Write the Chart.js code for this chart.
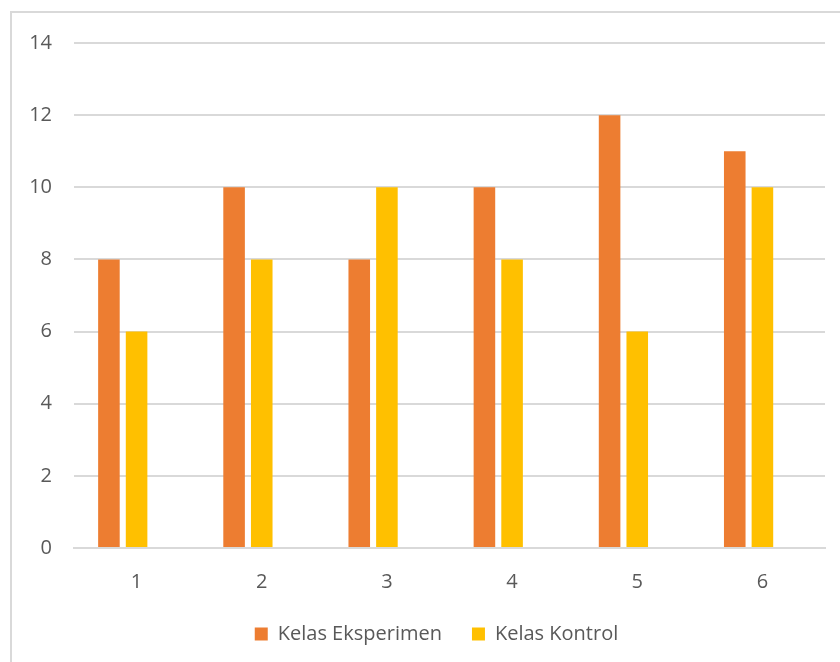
<!DOCTYPE html>
<html lang="id">
  <head>
    <meta charset="UTF-8" />
    <title>Kelas Eksperimen vs Kelas Kontrol</title>
    <script src="https://cdn.jsdelivr.net/npm/chart.js@4/dist/chart.umd.min.js"></script>
    <style>
      html, body { margin: 0; padding: 0; background: #fff; overflow: hidden; }
      #frame {
        position: absolute; left: 10px; top: 11px;
        width: 900px; height: 700px;
        border: 2px solid #d9d9d9; box-sizing: border-box;
      }
      #wrap { position: absolute; left: 0; top: 0; width: 840px; height: 662px; }
    </style>
  </head>
  <body>
    <div id="frame"></div>
    <div id="wrap"><canvas id="chart"></canvas></div>

    <script>
      const categories = ["1", "2", "3", "4", "5", "6"];
      const eksperimen = [8, 10, 8, 10, 12, 11];
      const kontrol = [6, 8, 10, 8, 6, 10];
      // third (empty) series in the original sheet, keeps the bars shifted left
      const kosong = [null, null, null, null, null, null];

      const textColor = "#595959";
      const gridColor = "#d9d9d9";
      const font = { family: "'Open Sans', sans-serif", size: 20 };

      const barOpts = { categoryPercentage: 0.663, barPercentage: 0.78 };

      // legend sits a bit right of centre in the original
      const legendShift = {
        id: "legendShift",
        afterLayout(chart) {
          chart.legend.left += 24;
          chart.legend.right += 24;
        },
      };

      new Chart(document.getElementById("chart"), {
        type: "bar",
        data: {
          labels: categories,
          datasets: [
            { label: "Kelas Eksperimen", data: eksperimen, backgroundColor: "#ed7d31", ...barOpts },
            { label: "Kelas Kontrol", data: kontrol, backgroundColor: "#ffc000", ...barOpts },
            { label: "", data: kosong, backgroundColor: "#a5a5a5", ...barOpts },
          ],
        },
        options: {
          responsive: true,
          maintainAspectRatio: false,
          animation: false,
          layout: { padding: { top: 43, right: 15, left: 0, bottom: 16 } },
          plugins: {
            tooltip: { enabled: false },
            legend: {
              position: "bottom",
              maxHeight: 52,
              labels: {
                color: textColor,
                font: font,
                boxWidth: 13,
                boxHeight: 13,
                padding: 30,
                filter: (item) => item.text !== "",
              },
            },
          },
          scales: {
            x: {
              grid: { display: false, drawTicks: false },
              border: { color: gridColor, width: 2 },
              ticks: { color: textColor, font: font, padding: 22 },
              afterFit: (scale) => { scale.height = 46; },
            },
            y: {
              min: 0,
              max: 14,
              ticks: { stepSize: 2, color: textColor, font: font, padding: 22 },
              grid: { color: gridColor, lineWidth: 2, drawTicks: false },
              border: { display: false },
              afterFit: (scale) => { scale.width = 74; },
            },
          },
        },
        plugins: [legendShift],
      });
    </script>
  </body>
</html>
